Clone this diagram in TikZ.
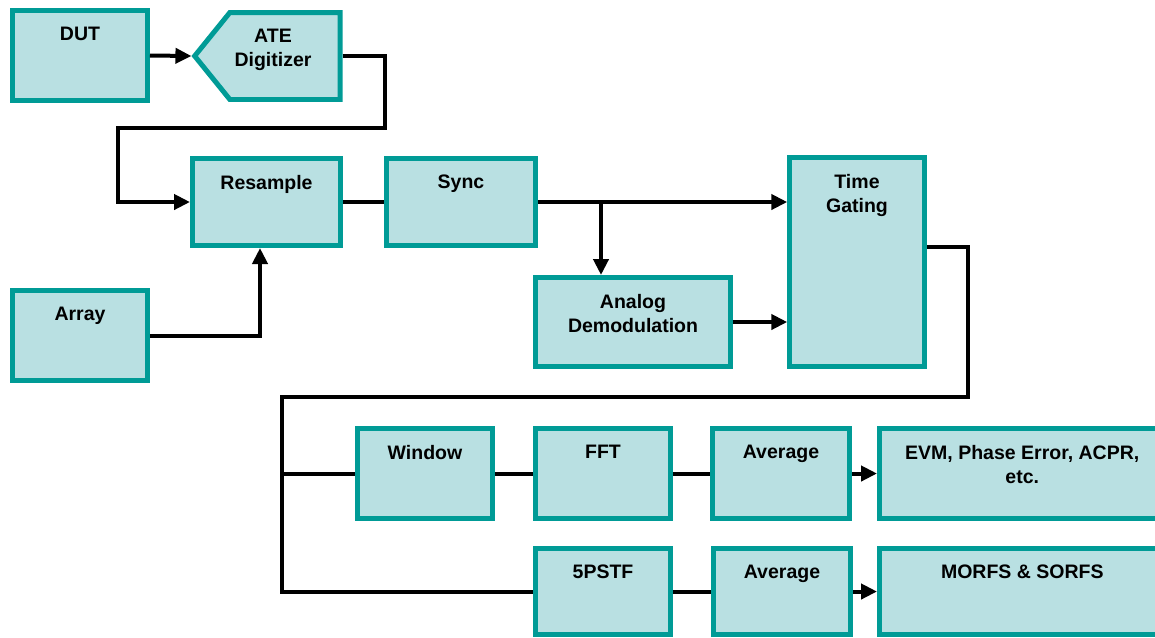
\documentclass[tikz,border=0pt]{standalone}
\usepackage{fontspec}
\setmainfont{Liberation Sans}
\usetikzlibrary{arrows.meta,shapes.symbols}
\definecolor{tealbd}{RGB}{0,155,150}
\definecolor{tealfl}{RGB}{185,224,226}
\tikzset{
  blk/.style={draw=tealbd, fill=tealfl, line width=0.1cm, inner sep=0pt},
  lbl/.style={anchor=north, yshift=-0.38cm, inner sep=0pt, align=center,
    font=\fontsize{11.1}{13.6}\selectfont\bfseries},
  conn/.style={line width=0.08cm},
  arr/.style={conn, -{Triangle[length=0.32cm,width=0.3cm]}}
}
\begin{document}
\begin{tikzpicture}[x=0.02cm, y=-0.02cm]
\useasboundingbox (0,0) rectangle (1155,637);
% top part
\node[blk, minimum width=2.7cm, minimum height=1.8cm, label={[lbl]north:DUT}] (dut) at (80,55.5) {};
\node[blk, signal, signal to=west, signal pointer angle=102, minimum width=2.91cm, minimum height=1.74cm,
  label={[lbl,xshift=-0.24cm]north:ATE\\Digitizer}] (ate) at (285,56) {};
\node[blk, minimum width=2.96cm, minimum height=1.74cm, label={[lbl]north:Resample}] (res) at (266.5,202) {};
\node[blk, minimum width=2.98cm, minimum height=1.74cm, label={[lbl]north:Sync}] (sync) at (461,202) {};
\node[blk, minimum width=2.7cm, minimum height=1.8cm, label={[lbl]north:Array}] (arr) at (80,335.5) {};
\node[blk, minimum width=3.89cm, minimum height=1.78cm, label={[lbl]north:Analog\\Demodulation}] (dem) at (633,322) {};
\node[blk, minimum width=2.69cm, minimum height=4.18cm, label={[lbl]north:Time\\Gating}] (tg) at (857,262) {};
% lower part
\node[blk, minimum width=2.7cm, minimum height=1.8cm, label={[lbl]north:Window}] (win) at (425,473.5) {};
\node[blk, minimum width=2.7cm, minimum height=1.8cm, label={[lbl]north:FFT}] (fft) at (603,473.5) {};
\node[blk, minimum width=2.74cm, minimum height=1.8cm, label={[lbl]north:Average}] (avga) at (781,473.5) {};
\node[blk, minimum width=5.71cm, minimum height=1.8cm, label={[lbl]north:EVM, Phase Error, ACPR,\\etc.}] (evm) at (1022.25,473.5) {};
\node[blk, minimum width=2.7cm, minimum height=1.72cm, label={[lbl]north:5PSTF}] (psf) at (603,591.5) {};
\node[blk, minimum width=2.74cm, minimum height=1.72cm, label={[lbl]north:Average}] (avgb) at (782,591.5) {};
\node[blk, minimum width=5.71cm, minimum height=1.72cm, label={[lbl]north:MORFS \& SORFS}] (morfs) at (1022.25,591.5) {};
% connectors
\coordinate (br) at (601,202);
\coordinate (bus) at (282,397);
\draw[arr] (dut.east) -- (ate.west);
\draw[arr] (ate.east) -| (385,128) -- (118,128) |- (res.west);
\draw[arr] (arr.east) -| ([xshift=-0.13cm]res.south);
\draw[conn] (res) -- (sync);
\draw[arr] (sync.east) -- (sync.east -| tg.west);
\draw[arr] (br) -- (br |- dem.north);
\draw[arr] (dem.east) -- (dem.east -| tg.west);
\draw[conn] ([yshift=0.3cm]tg.east) -| (968,397) -- (bus) |- (psf.west);
\draw[conn] (bus |- win.west) -- (win.west);
\draw[conn] (win) -- (fft);
\draw[conn] (fft) -- (avga);
\draw[arr] (avga) -- (evm);
\draw[conn] (psf) -- (avgb);
\draw[arr] (avgb) -- (morfs);
\end{tikzpicture}
\end{document}
